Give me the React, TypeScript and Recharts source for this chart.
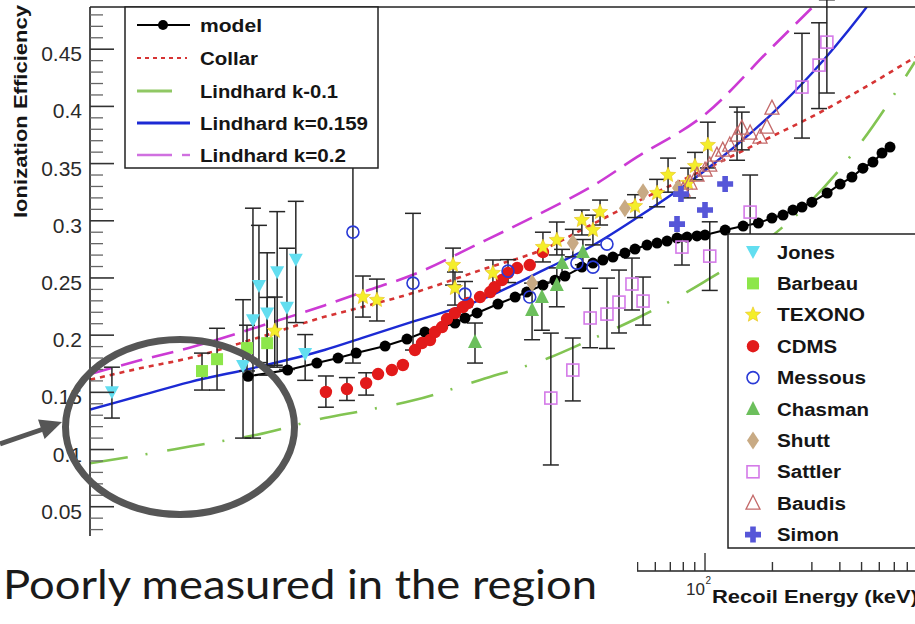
import React from 'react';
import { ComposedChart, Line, Scatter, XAxis, YAxis, ErrorBar } from 'recharts';

// ---------- axes ----------
const xMin = 0.1796;
const xMax = 866;
const yMin = -0.0062;
const yMax = 0.4869;

const xTicks = [0.2, 0.3, 0.4, 0.5, 0.6, 0.7, 0.8, 0.9, 1, 2, 3, 4, 5, 6, 7, 8, 9, 10, 20, 30, 40, 50, 60, 70, 80, 90, 100, 200, 300, 400, 500, 600, 700, 800];
const xMajor = [1, 10, 100];
const xLabelled = [100];
const xLabelBase = ['10'];
const xLabelSup = ['2'];

const yTicks = [0.01, 0.02, 0.03, 0.04, 0.05, 0.06, 0.07, 0.08, 0.09, 0.1, 0.11, 0.12, 0.13, 0.14, 0.15, 0.16, 0.17, 0.18, 0.19, 0.2, 0.21, 0.22, 0.23, 0.24, 0.25, 0.26, 0.27, 0.28, 0.29, 0.3, 0.31, 0.32, 0.33, 0.34, 0.35, 0.36, 0.37, 0.38, 0.39, 0.4, 0.41, 0.42, 0.43, 0.44, 0.45, 0.46, 0.47, 0.48];
const yMajor = [0.05, 0.1, 0.15, 0.2, 0.25, 0.3, 0.35, 0.4, 0.45];
const yMajorLabels = ['0.05', '0.1', '0.15', '0.2', '0.25', '0.3', '0.35', '0.4', '0.45'];

// ---------- curves ----------
const lindhard01 = [
  { e: 0.18, v: 0.088 }, { e: 0.3, v: 0.095 }, { e: 0.5, v: 0.1026 }, { e: 1, v: 0.113 }, { e: 2, v: 0.1275 },
  { e: 3, v: 0.134 }, { e: 5, v: 0.143 }, { e: 10, v: 0.161 }, { e: 20, v: 0.18 }, { e: 30, v: 0.195 },
  { e: 50, v: 0.215 }, { e: 100, v: 0.247 }, { e: 200, v: 0.287 }, { e: 300, v: 0.318 }, { e: 500, v: 0.369 }, { e: 866, v: 0.439 },
];
const lindhard0159 = [
  { e: 0.18, v: 0.135 }, { e: 0.3, v: 0.147 }, { e: 0.5, v: 0.159 }, { e: 1, v: 0.172 }, { e: 2, v: 0.187 },
  { e: 3, v: 0.198 }, { e: 5, v: 0.212 }, { e: 10, v: 0.231 }, { e: 20, v: 0.259 }, { e: 30, v: 0.276 },
  { e: 50, v: 0.303 }, { e: 100, v: 0.344 }, { e: 200, v: 0.394 }, { e: 300, v: 0.429 }, { e: 500, v: 0.481 }, { e: 528, v: 0.487 },
];
const lindhard02 = [
  { e: 0.18, v: 0.166 }, { e: 0.3, v: 0.178 }, { e: 0.5, v: 0.189 }, { e: 1, v: 0.207 }, { e: 2, v: 0.226 },
  { e: 3, v: 0.238 }, { e: 5, v: 0.253 }, { e: 10, v: 0.281 }, { e: 20, v: 0.31 }, { e: 30, v: 0.328 },
  { e: 50, v: 0.356 }, { e: 100, v: 0.393 }, { e: 200, v: 0.452 }, { e: 303, v: 0.487 },
];
const collar = [
  { e: 0.18, v: 0.161 }, { e: 0.3, v: 0.171 }, { e: 0.5, v: 0.18 }, { e: 1, v: 0.1975 }, { e: 2, v: 0.216 },
  { e: 3, v: 0.225 }, { e: 5, v: 0.237 }, { e: 10, v: 0.257 }, { e: 20, v: 0.277 }, { e: 30, v: 0.295 },
  { e: 50, v: 0.317 }, { e: 100, v: 0.345 }, { e: 200, v: 0.374 }, { e: 300, v: 0.391 }, { e: 500, v: 0.415 }, { e: 866, v: 0.443 },
];
const model = [
  { e: 0.912, v: 0.164 }, { e: 1.37, v: 0.1695 }, { e: 1.85, v: 0.1756 }, { e: 2.3, v: 0.18 }, { e: 2.77, v: 0.1844 },
  { e: 3.73, v: 0.1905 }, { e: 4.67, v: 0.1966 }, { e: 5.62, v: 0.2027 }, { e: 7.65, v: 0.2106 }, { e: 8.48, v: 0.215 },
  { e: 9.6, v: 0.2194 }, { e: 11.9, v: 0.2272 }, { e: 14.2, v: 0.2333 }, { e: 16.0, v: 0.2377 }, { e: 18.9, v: 0.2438 },
  { e: 21.4, v: 0.248 }, { e: 23.7, v: 0.2517 }, { e: 28.2, v: 0.2595 }, { e: 31.6, v: 0.263 }, { e: 35, v: 0.2657 },
  { e: 38.8, v: 0.2683 }, { e: 43.9, v: 0.2718 }, { e: 48.7, v: 0.2753 }, { e: 55.1, v: 0.2788 }, { e: 61.1, v: 0.2805 },
  { e: 67.7, v: 0.2823 }, { e: 75.0, v: 0.2849 }, { e: 83.2, v: 0.2858 }, { e: 92.1, v: 0.2867 }, { e: 100, v: 0.2875 },
  { e: 123, v: 0.2919 }, { e: 148, v: 0.2954 }, { e: 173, v: 0.298 }, { e: 199, v: 0.3024 }, { e: 223, v: 0.305 },
  { e: 247, v: 0.3094 }, { e: 271, v: 0.312 }, { e: 300, v: 0.3163 }, { e: 351, v: 0.3242 }, { e: 401, v: 0.3321 },
  { e: 453, v: 0.3382 }, { e: 507, v: 0.346 }, { e: 562, v: 0.3513 }, { e: 617, v: 0.3592 }, { e: 670, v: 0.3644 },
];

// ---------- measurements (err = [low, high]) ----------
const jones = [
  { e: 0.225, v: 0.150, err: [0.0225, 0.022] }, { e: 0.866, v: 0.173, err: [0.063, 0.058] },
  { e: 0.959, v: 0.213, err: [0.103, 0.098] }, { e: 1.02, v: 0.243, err: [0.067, 0.053] },
  { e: 1.11, v: 0.219, err: [0.046, 0.053] }, { e: 1.23, v: 0.255, err: [0.083, 0.053] },
  { e: 1.36, v: 0.224, err: [0.054, 0.052] }, { e: 1.49, v: 0.266, err: [0.055, 0.051] },
  { e: 1.64, v: 0.1835, err: [0.023, 0.017] },
];
const barbeau = [
  { e: 0.568, v: 0.1686, err: [0.0166, 0.0157] }, { e: 0.663, v: 0.179, err: [0.027, 0.027] },
  { e: 0.902, v: 0.1887, err: [0.02, 0.02] }, { e: 1.11, v: 0.193, err: [0.028, 0.04] },
];
const texono = [
  { e: 1.2, v: 0.2037, err: [0.03, 0.0296] }, { e: 2.97, v: 0.2333, err: [0.0175, 0.0184] },
  { e: 3.43, v: 0.2307, err: [0.0183, 0.0183] }, { e: 7.5, v: 0.2613, err: [0.0175, 0.0148] },
  { e: 7.65, v: 0.2412, err: [0.0149, 0.014] }, { e: 11.3, v: 0.2543, err: [0.0149, 0.0114] },
  { e: 18.9, v: 0.277, err: [0.013, 0.013] }, { e: 21.8, v: 0.2831, err: [0.013, 0.0158] },
  { e: 28.2, v: 0.3006, err: [0.013, 0.0088] }, { e: 31.6, v: 0.2919, err: [0.013, 0.013] },
  { e: 34.0, v: 0.3076, err: [0.0113, 0.0105] }, { e: 48.7, v: 0.3128, err: [0.01, 0.01] },
  { e: 61.1, v: 0.3242, err: [0.012, 0.012] }, { e: 68.4, v: 0.34, err: [0.015, 0.0148] },
  { e: 84.0, v: 0.333, err: [0.013, 0.013] }, { e: 90.2, v: 0.3478, err: [0.012, 0.012] },
  { e: 103, v: 0.3662, err: [0.02, 0.02] },
];
const cdms = [
  { e: 2.03, v: 0.1503, err: [0.0133, 0.014] }, { e: 2.52, v: 0.1529, err: [0.01, 0.01] },
  { e: 3.07, v: 0.1581, err: [0.0105, 0.009] }, { e: 3.47, v: 0.166 }, { e: 4.0, v: 0.1695 },
  { e: 4.48, v: 0.1739 }, { e: 5.07, v: 0.187 }, { e: 5.45, v: 0.1931 }, { e: 5.92, v: 0.1957 },
  { e: 6.23, v: 0.2027 }, { e: 6.7, v: 0.2071 }, { e: 7.05, v: 0.2141 }, { e: 7.65, v: 0.2193 },
  { e: 8.31, v: 0.2246 }, { e: 8.75, v: 0.2281 }, { e: 9.9, v: 0.2333 }, { e: 11.0, v: 0.2377 },
  { e: 11.5, v: 0.242 }, { e: 12.4, v: 0.2482 }, { e: 13.2, v: 0.2543 }, { e: 14.5, v: 0.2587 },
  { e: 16.5, v: 0.2613 }, { e: 18.9, v: 0.2726 },
];
const messous = [
  { e: 2.68, v: 0.2901, err: [0.1145, 0.072] }, { e: 4.97, v: 0.2455, err: [0.0585, 0.061] },
  { e: 8.48, v: 0.2359, err: [0.011, 0.011] }, { e: 13.2, v: 0.256, err: [0.01, 0.01] },
  { e: 16.5, v: 0.2333 }, { e: 26.8, v: 0.263 }, { e: 31.6, v: 0.2595 }, { e: 36.5, v: 0.2796 },
];
const chasman = [
  { e: 9.4, v: 0.194, err: [0.0184, 0.0166] }, { e: 16.9, v: 0.222, err: [0.026, 0.0235] },
  { e: 18.7, v: 0.2333, err: [0.029, 0.013] }, { e: 21.8, v: 0.2438, err: [0.019, 0.015] },
  { e: 23.0, v: 0.263, err: [0.012, 0.012] }, { e: 28.5, v: 0.2726, err: [0.011, 0.011] },
];
const shutt = [
  { e: 16.9, v: 0.2455 }, { e: 25.7, v: 0.2805, err: [0.012, 0.012] }, { e: 43.9, v: 0.311 },
  { e: 52.9, v: 0.325 }, { e: 75.8, v: 0.3286 },
];
const sattler = [
  { e: 20.5, v: 0.145, err: [0.0585, 0.0568] }, { e: 25.7, v: 0.1695, err: [0.027, 0.028] },
  { e: 30.7, v: 0.215, err: [0.026, 0.026] }, { e: 36.5, v: 0.2184, err: [0.03, 0.0315] },
  { e: 41.3, v: 0.2289, err: [0.027, 0.028] }, { e: 47.2, v: 0.2447, err: [0.0227, 0.0227] },
  { e: 52.9, v: 0.2298, err: [0.021, 0.021] }, { e: 78.9, v: 0.277, err: [0.0157, 0.0105] },
  { e: 105, v: 0.2691, err: [0.03, 0.03] }, { e: 159, v: 0.3076, err: [0.033, 0.0324] },
  { e: 271, v: 0.4169, err: [0.0446, 0.047] }, { e: 323, v: 0.4361, err: [0.038, 0.037] },
  { e: 350, v: 0.4562, err: [0.0445, 0.037] },
];
const baudis = [
  { e: 79.8, v: 0.3268 }, { e: 85.7, v: 0.333 }, { e: 92.1, v: 0.3399 }, { e: 100, v: 0.3443 },
  { e: 105, v: 0.3487 }, { e: 113, v: 0.3574 }, { e: 120, v: 0.3618 }, { e: 129, v: 0.3662 },
  { e: 139, v: 0.3749, err: [0.022, 0.0245] }, { e: 146, v: 0.381, err: [0.019, 0.014] },
  { e: 159, v: 0.3767 }, { e: 176, v: 0.3732 }, { e: 189, v: 0.3819 }, { e: 199, v: 0.3985 },
];
const simon = [
  { e: 75.0, v: 0.2971 }, { e: 78.1, v: 0.3233 }, { e: 100, v: 0.3094 }, { e: 123, v: 0.3321 },
];

const legend1 = ['model', 'Collar', 'Lindhard k-0.1', 'Lindhard k=0.159', 'Lindhard k=0.2'];
const legend1Widths = [62, 58, 138, 168, 146];
const legend2 = ['Jones', 'Barbeau', 'TEXONO', 'CDMS', 'Messous', 'Chasman', 'Shutt', 'Sattler', 'Baudis', 'Simon'];
const legend2Kinds = ['jones', 'barbeau', 'texono', 'cdms', 'messous', 'chasman', 'shutt', 'sattler', 'baudis', 'simon'];
const legend2Widths = [58, 81, 88, 60, 89, 92, 53, 64, 69, 62];

const FONT = '"Liberation Sans", Arial, Helvetica, sans-serif';

const C = {
  jones: '#62def0',
  barbeau: '#8de64a',
  texono: '#f4ee2a',
  cdms: '#e21a1a',
  messous: '#2a3ad6',
  chasman: '#6cbf5c',
  shutt: '#c8aa84',
  sattler: '#d47ae8',
  baudis: '#c46a6a',
  simon: '#5656d8',
  green: '#82c452',
  blue: '#1c2ad4',
  magenta: '#cc3ad4',
  red: '#d63434',
};

function starPath(cx: number, cy: number, ro: number, ri: number) {
  let d = '';
  for (let i = 0; i < 10; i++) {
    const r = i % 2 === 0 ? ro : ri;
    const a = -Math.PI / 2 + (i * Math.PI) / 5;
    d += (i === 0 ? 'M' : 'L') + (cx + r * Math.cos(a)).toFixed(2) + ',' + (cy + r * Math.sin(a)).toFixed(2);
  }
  return d + 'Z';
}

function marker(kind: string, cx: number, cy: number) {
  if (cx == null || cy == null || isNaN(cx) || isNaN(cy)) return <g />;
  switch (kind) {
    case 'jones':
      return <path d={`M${cx - 7},${cy - 6}L${cx + 7},${cy - 6}L${cx},${cy + 7}Z`} fill={C.jones} />;
    case 'barbeau':
      return <rect x={cx - 6} y={cy - 6} width={12} height={12} fill={C.barbeau} />;
    case 'texono':
      return <path d={starPath(cx, cy, 8, 3.6)} fill={C.texono} stroke="#e8c020" strokeWidth={0.6} />;
    case 'cdms':
      return <circle cx={cx} cy={cy} r={6.2} fill={C.cdms} />;
    case 'messous':
      return <circle cx={cx} cy={cy} r={6} fill="none" stroke={C.messous} strokeWidth={1.6} />;
    case 'chasman':
      return <path d={`M${cx},${cy - 8}L${cx + 7},${cy + 6}L${cx - 7},${cy + 6}Z`} fill={C.chasman} />;
    case 'shutt':
      return <path d={`M${cx},${cy - 9}L${cx + 6},${cy}L${cx},${cy + 9}L${cx - 6},${cy}Z`} fill={C.shutt} />;
    case 'sattler':
      return <rect x={cx - 6} y={cy - 6} width={12} height={12} fill="none" stroke={C.sattler} strokeWidth={1.6} />;
    case 'baudis':
      return <path d={`M${cx},${cy - 8}L${cx + 7},${cy + 6}L${cx - 7},${cy + 6}Z`} fill="none" stroke={C.baudis} strokeWidth={1.3} />;
    case 'simon':
      return (
        <path
          d={`M${cx - 2.8},${cy - 8}H${cx + 2.8}V${cy - 2.8}H${cx + 8}V${cy + 2.8}H${cx + 2.8}V${cy + 8}H${cx - 2.8}V${cy + 2.8}H${cx - 8}V${cy - 2.8}H${cx - 2.8}Z`}
          fill={C.simon}
        />
      );
    default:
      return <circle cx={cx} cy={cy} r={5.5} fill="#000" />;
  }
}

const near = (a: number, b: number) => Math.abs(a - b) < 1e-6 * Math.max(1, Math.abs(b));

const YTick = (props: any) => {
  const { x, y, payload } = props;
  const val = payload.value;
  const idx = yMajor.findIndex((m) => near(m, val));
  const major = idx >= 0;
  return (
    <g>
      <line x1={x} y1={y} x2={x + (major ? 24 : 13)} y2={y} stroke={major ? '#333' : '#666'} strokeWidth={major ? 1.6 : 1.3} />
      {major && (
        <text x={x - 8} y={y + 12} textAnchor="end" fontSize={21} fontFamily={FONT} fill="#2a2a2a">
          {yMajorLabels[idx]}
        </text>
      )}
    </g>
  );
};

const XTick = (props: any) => {
  const { x, y, payload } = props;
  const val = payload.value;
  const major = xMajor.some((m) => near(m, val));
  const li = xLabelled.findIndex((m) => near(m, val));
  return (
    <g>
      <line x1={x} y1={y} x2={x} y2={y - (major ? 18 : 9)} stroke="#333" strokeWidth={1.4} />
      {li >= 0 && (
        <g>
          <text x={x - 19} y={y + 24} fontSize={17} fontFamily={FONT} fill="#2a2a2a">
            {xLabelBase[li]}
          </text>
          <text x={x + 0.5} y={y + 13} fontSize={10} fontFamily={FONT} fill="#2a2a2a">
            {xLabelSup[li]}
          </text>
        </g>
      )}
    </g>
  );
};

const errProps = { dataKey: 'err', direction: 'y' as const, width: 8, stroke: '#262626', strokeWidth: 1.5 };

function series(data: any[], kind: string) {
  return (
    <Scatter
      key={kind}
      data={data}
      dataKey="v"
      isAnimationActive={false}
      shape={(p: any) => marker(kind, p.cx, p.cy)}
    >
      <ErrorBar {...errProps} />
    </Scatter>
  );
}

export default function App() {
  const row1 = [25, 58, 91, 123, 155];
  return (
    <div style={{ position: 'absolute', left: 0, top: 0, width: 915, height: 624, overflow: 'hidden', background: '#fff' }}>
      <ComposedChart width={915} height={624} margin={{ top: 7, right: 0, bottom: 23, left: 0 }}>
        <XAxis
          type="number"
          dataKey="e"
          scale="log"
          domain={[xMin, xMax]}
          allowDataOverflow
          ticks={xTicks}
          interval={0}
          tick={<XTick />}
          tickLine={false}
          tickSize={0}
          tickMargin={0}
          height={30}
          axisLine={{ stroke: '#222', strokeWidth: 1.6 }}
        />
        <YAxis
          type="number"
          dataKey="v"
          domain={[yMin, yMax]}
          allowDataOverflow
          ticks={yTicks}
          interval={0}
          tick={<YTick />}
          tickLine={false}
          tickSize={0}
          tickMargin={0}
          width={90}
          axisLine={{ stroke: '#222', strokeWidth: 1.6 }}
        />
        <Line data={lindhard01} dataKey="v" type="monotone" stroke={C.green} strokeWidth={2.6} strokeDasharray="38 18 2 20" dot={false} isAnimationActive={false} />
        <Line data={collar} dataKey="v" type="monotone" stroke={C.red} strokeWidth={2.6} strokeDasharray="5 5" dot={false} isAnimationActive={false} />
        <Line data={lindhard02} dataKey="v" type="monotone" stroke={C.magenta} strokeWidth={2.6} strokeDasharray="22 10" dot={false} isAnimationActive={false} />
        <Line data={lindhard0159} dataKey="v" type="monotone" stroke={C.blue} strokeWidth={2.4} dot={false} isAnimationActive={false} />
        <Line data={model} dataKey="v" type="linear" stroke="#000" strokeWidth={2} dot={{ r: 5.5, fill: '#000', stroke: '#000', strokeWidth: 0 }} isAnimationActive={false} />
        {series(cdms, 'cdms')}
        {series(barbeau, 'barbeau')}
        {series(jones, 'jones')}
        {series(messous, 'messous')}
        {series(chasman, 'chasman')}
        {series(sattler, 'sattler')}
        {series(shutt, 'shutt')}
        {series(texono, 'texono')}
        {series(baudis, 'baudis')}
        {series(simon, 'simon')}
      </ComposedChart>
      <svg width={915} height={624} style={{ position: 'absolute', left: 0, top: 0, pointerEvents: 'none' }}>
        {/* top frame */}
        <line x1={90} y1={7} x2={915} y2={7} stroke="#222" strokeWidth={1.6} />
        {/* legend 1 */}
        <rect x={125} y={7} width={253} height={161} fill="#fff" stroke="#222" strokeWidth={1.5} />
        <line x1={137} y1={row1[0]} x2={190} y2={row1[0]} stroke="#000" strokeWidth={2} />
        <circle cx={163} cy={row1[0]} r={5} fill="#000" />
        <line x1={137} y1={row1[1]} x2={187} y2={row1[1]} stroke={C.red} strokeWidth={2} strokeDasharray="4 4" />
        <line x1={137} y1={row1[2]} x2={172} y2={row1[2]} stroke="#90c864" strokeWidth={3} />
        <line x1={137} y1={row1[3]} x2={190} y2={row1[3]} stroke={C.blue} strokeWidth={3} />
        <line x1={137} y1={row1[4]} x2={172} y2={row1[4]} stroke="#d070e0" strokeWidth={2.4} />
        <line x1={182} y1={row1[4]} x2={190} y2={row1[4]} stroke="#d070e0" strokeWidth={2.4} />
        {legend1.map((t, i) => (
          <text key={t} x={200} y={row1[i] + 6.5} fontSize={18} fontWeight="bold" fontFamily={FONT} fill="#151515" textLength={legend1Widths[i]} lengthAdjust="spacingAndGlyphs">
            {t}
          </text>
        ))}
        {/* legend 2 */}
        <rect x={728} y={234} width={200} height={314} fill="#fff" stroke="#222" strokeWidth={1.5} />
        {legend2.map((t, i) => {
          const cy = 252 + i * 31.4;
          return (
            <g key={t}>
              {marker(legend2Kinds[i], 753, cy)}
              <text x={777} y={cy + 6.5} fontSize={18} fontWeight="bold" fontFamily={FONT} fill="#151515" textLength={legend2Widths[i]} lengthAdjust="spacingAndGlyphs">
                {t}
              </text>
            </g>
          );
        })}
        {/* axis titles */}
        <text transform="translate(27,218) rotate(-90)" fontSize={18} fontWeight="bold" fontFamily={FONT} fill="#151515" textLength={213} lengthAdjust="spacingAndGlyphs">
          Ionization Efficiency
        </text>
        <text x={712} y={603} fontSize={19} fontWeight="bold" fontFamily={FONT} fill="#151515" textLength={206} lengthAdjust="spacingAndGlyphs">
          Recoil Energy (keV)
        </text>
        {/* slide overlay */}
        <rect x={0} y={536} width={637} height={88} fill="#fff" />
        <text x={3} y={599} fontSize={40} fontFamily="Lato, 'Open Sans', sans-serif" fill="#1a1a1a" textLength={594} lengthAdjust="spacingAndGlyphs">
          Poorly measured in the region
        </text>
        <ellipse cx={180} cy={427} rx={114.5} ry={87.5} fill="none" stroke="#565656" strokeWidth={7} />
        <line x1={0} y1={444} x2={42} y2={429.5} stroke="#565656" strokeWidth={5} />
        <path d="M62,422 L44.6,439 L38,419.5 Z" fill="#565656" />
      </svg>
    </div>
  );
}
